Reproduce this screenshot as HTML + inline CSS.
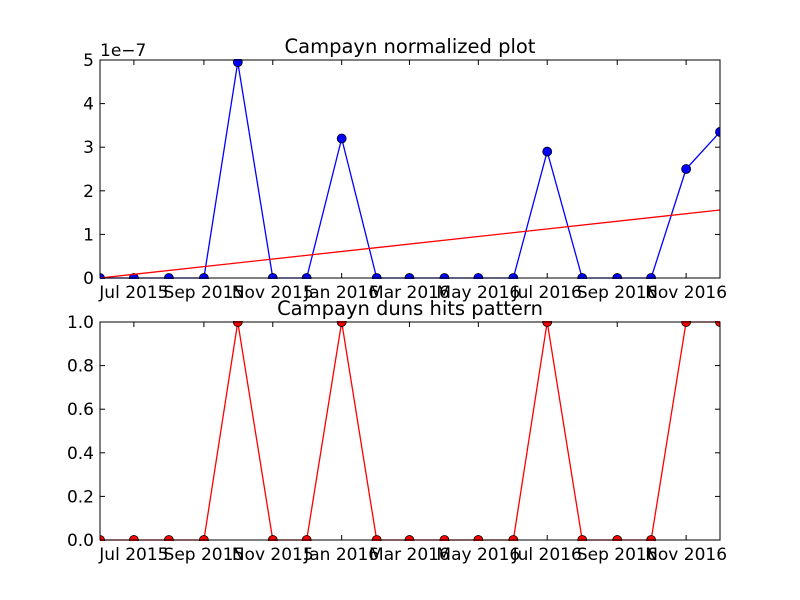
<!DOCTYPE html>
<html><head><meta charset="utf-8"><style>
body{margin:0;background:#fff;}
svg{display:block;font-family:"DejaVu Sans","Liberation Sans",sans-serif;}
</style></head><body>
<svg id="chart" width="800" height="600">
<rect x="0" y="0" width="800" height="600" fill="#ffffff"/>
</svg>
<script>
const months = ["2015-06","2015-07","2015-08","2015-09","2015-10","2015-11","2015-12","2016-01","2016-02","2016-03","2016-04","2016-05","2016-06","2016-07","2016-08","2016-09","2016-10","2016-11","2016-12"];
const normValues = [0,0,0,0,4.95,0,0,3.2,0,0,0,0,0,2.9,0,0,0,2.5,3.35];
const hitValues = [0,0,0,0,1,0,0,1,0,0,0,0,0,1,0,0,0,1,1];
const trendStart = 0;
const trendEnd = 1.56;
const xTickDates = ["2015-07","2015-09","2015-11","2016-01","2016-03","2016-05","2016-07","2016-09","2016-11"];
const xTickLabels = ["Jul 2015","Sep 2015","Nov 2015","Jan 2016","Mar 2016","May 2016","Jul 2016","Sep 2016","Nov 2016"];
const topYTicks = [0,1,2,3,4,5];
const botYTicks = [0,0.2,0.4,0.6,0.8,1.0];
const botYLabels = ["0.0","0.2","0.4","0.6","0.8","1.0"];

const svg = document.getElementById('chart');
const NS = "http://www.w3.org/2000/svg";
const X0 = 100, X1 = 720;
const d0 = Date.UTC(2015,5,1), d1 = Date.UTC(2016,11,1);
function dt(s){const p=s.split('-');return Date.UTC(+p[0],+p[1]-1,1);}
function xS(s){return X0+(dt(s)-d0)/(d1-d0)*(X1-X0);}
function mk(tag, attrs, parent){const e=document.createElementNS(NS,tag);for(const k in attrs)e.setAttribute(k,attrs[k]);(parent||svg).appendChild(e);return e;}

const defs = mk('defs',{});
function clip(id,top,bot){const cp=mk('clipPath',{id:id},defs);mk('rect',{x:X0,y:top-1,width:X1-X0,height:bot-top+2},cp);}

function panel(name, top, bot, ymax, yTicks, yLabels, title, color, values, markerColor){
  const yS = v => bot-(v/ymax)*(bot-top);
  clip(name+'-clip', top, bot);
  let t = mk('text',{x:410,y:top-7,'text-anchor':'middle','font-size':19.5});
  t.textContent = title;
  
  
  yTicks.forEach((v,i)=>{
    const y=yS(v);
    let l=mk('line',{x1:X0,x2:X0+5,y1:y,y2:y,stroke:'#000'});
    
    
    mk('line',{x1:X1-5,x2:X1,y1:y,y2:y,stroke:'#000'});
    let tx=mk('text',{x:X0-6,y:y+6,'text-anchor':'end','font-size':17});
    tx.textContent=yLabels[i];
    
    
  });
  xTickDates.forEach((d,i)=>{
    const x=xS(d);
    mk('line',{x1:x,x2:x,y1:bot,y2:bot-5,stroke:'#000'});
    mk('line',{x1:x,x2:x,y1:top,y2:top+5,stroke:'#000'});
    let tx=mk('text',{x:x,y:bot+20,'text-anchor':'middle','font-size':17});
    tx.textContent=xTickLabels[i];
    
    
  });
  const g = mk('g',{'clip-path':'url(#'+name+'-clip)'});
  const pts = values.map((v,i)=>xS(months[i]).toFixed(2)+','+yS(v).toFixed(2)).join(' ');
  let pl=mk('polyline',{points:pts,fill:'none',stroke:color,'stroke-width':1.3},g);
  
  
  values.forEach((v,i)=>{
    let c=mk('circle',{cx:xS(months[i]),cy:yS(v),r:4.5,fill:markerColor,stroke:'#000','stroke-width':0.8},g);
    
    
  });
  return {yS:yS, g:g};
}

const topP = panel('normalized', 60, 278, 5, topYTicks, topYTicks.map(String), 'Campayn normalized plot', '#0000ff', normValues, '#0000ff');
let trend = mk('line',{x1:xS(months[0]),y1:topP.yS(trendStart),x2:xS(months[months.length-1]),y2:topP.yS(trendEnd),stroke:'#ff0000','stroke-width':1.3},topP.g);


let ex = mk('text',{x:X0,y:56,'font-size':17});
ex.textContent='1e\u22127';


let f1=mk('rect',{x:X0,y:60,width:X1-X0,height:218,fill:'none',stroke:'#000'});



panel('hits', 322, 540, 1, botYTicks, botYLabels, 'Campayn duns hits pattern', '#ff0000', hitValues, '#ff0000');
let f2=mk('rect',{x:X0,y:322,width:X1-X0,height:218,fill:'none',stroke:'#000'});


</script>
</body></html>
